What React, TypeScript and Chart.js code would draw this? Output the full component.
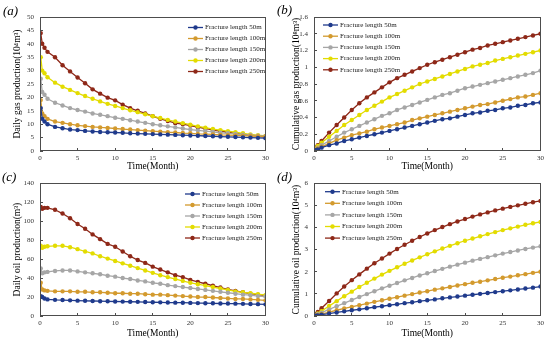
import React, { useEffect, useRef } from "react";
import { Chart, registerables } from "chart.js";

Chart.register(...registerables);

const FONT = "'Liberation Serif', 'Times New Roman', Times, serif";

const SERIES_LABELS = [
  "Fracture length 50m",
  "Fracture length 100m",
  "Fracture length 150m",
  "Fracture length 200m",
  "Fracture length 250m",
];
const SERIES_COLORS = ["#1F3A8C", "#D39A2E", "#A6A6A6", "#E3DC00", "#8E2818"];

const TIME_DAILY = [0.1, 0.3, 0.6, 1, 2, 3, 4, 5, 6, 7, 8, 9, 10, 11, 12, 13, 14, 15, 16, 17, 18, 19, 20, 21, 22, 23, 24, 25, 26, 27, 28, 29, 30];
const TIME_CUM = [0, 0.25, 0.5, 1, 2, 3, 4, 5, 6, 7, 8, 9, 10, 11, 12, 13, 14, 15, 16, 17, 18, 19, 20, 21, 22, 23, 24, 25, 26, 27, 28, 29, 30];

// (a) Daily gas production (10^4 m^3)
const GAS_DAILY_50 = [16, 12, 11, 10, 9, 8.5, 8, 7.8, 7.5, 7.3, 7.1, 7.0, 6.9, 6.8, 6.6, 6.5, 6.4, 6.3, 6.2, 6.1, 6.0, 5.9, 5.8, 5.7, 5.6, 5.5, 5.4, 5.3, 5.2, 5.1, 5.0, 4.9, 4.8];
const GAS_DAILY_100 = [19, 14, 13, 12, 11, 10.5, 10, 9.6, 9.3, 9.0, 8.8, 8.6, 8.4, 8.2, 8.0, 7.8, 7.6, 7.4, 7.2, 7.0, 6.9, 6.7, 6.6, 6.4, 6.3, 6.2, 6.0, 5.9, 5.8, 5.7, 5.6, 5.5, 5.4];
const GAS_DAILY_150 = [27, 22, 21, 19.5, 18, 17, 16, 15.3, 14.7, 14, 13.5, 13, 12.4, 12, 11.5, 11, 10.5, 10, 9.6, 9.2, 8.8, 8.4, 8.0, 7.7, 7.4, 7.1, 6.8, 6.6, 6.4, 6.1, 5.9, 5.7, 5.5];
const GAS_DAILY_200 = [35, 30, 29, 27.5, 25.5, 24, 22.8, 21.6, 20.5, 19.5, 18.5, 17.6, 16.8, 16, 15.2, 14.5, 13.7, 13, 12.3, 11.6, 11, 10.4, 9.8, 9.2, 8.7, 8.2, 7.8, 7.4, 7.0, 6.6, 6.2, 5.9, 5.6];
const GAS_DAILY_250 = [44, 40, 38.5, 37, 35, 32, 29.7, 27.4, 25.3, 23, 21.4, 19.9, 18.9, 17.3, 16, 15, 14, 13, 12, 11.2, 10.4, 10, 9.5, 8.9, 8.4, 7.8, 7.4, 7.0, 6.6, 6.3, 5.9, 5.6, 5.2];

// (b) Cumulative gas production (10^8 m^3)
const GAS_CUM_50 = [0, 0.01, 0.02, 0.04, 0.07, 0.09, 0.12, 0.14, 0.16, 0.18, 0.20, 0.22, 0.24, 0.26, 0.28, 0.30, 0.32, 0.34, 0.36, 0.38, 0.39, 0.41, 0.43, 0.45, 0.46, 0.48, 0.49, 0.51, 0.52, 0.54, 0.55, 0.57, 0.58];
const GAS_CUM_100 = [0, 0.015, 0.03, 0.05, 0.09, 0.13, 0.16, 0.19, 0.21, 0.23, 0.26, 0.28, 0.30, 0.32, 0.34, 0.37, 0.39, 0.41, 0.43, 0.45, 0.47, 0.49, 0.51, 0.53, 0.55, 0.56, 0.58, 0.60, 0.62, 0.64, 0.65, 0.67, 0.69];
const GAS_CUM_150 = [0, 0.02, 0.04, 0.07, 0.12, 0.17, 0.22, 0.26, 0.30, 0.34, 0.38, 0.42, 0.45, 0.49, 0.52, 0.55, 0.58, 0.61, 0.64, 0.67, 0.69, 0.72, 0.75, 0.77, 0.79, 0.81, 0.83, 0.85, 0.87, 0.89, 0.91, 0.93, 0.96];
const GAS_CUM_200 = [0, 0.03, 0.06, 0.10, 0.17, 0.24, 0.31, 0.37, 0.43, 0.49, 0.54, 0.59, 0.64, 0.68, 0.72, 0.76, 0.80, 0.83, 0.86, 0.89, 0.92, 0.95, 0.98, 1.01, 1.03, 1.05, 1.08, 1.10, 1.12, 1.14, 1.16, 1.18, 1.20];
const GAS_CUM_250 = [0, 0.04, 0.07, 0.12, 0.22, 0.31, 0.40, 0.49, 0.57, 0.64, 0.70, 0.76, 0.82, 0.87, 0.91, 0.95, 0.99, 1.03, 1.06, 1.09, 1.12, 1.15, 1.18, 1.21, 1.23, 1.26, 1.28, 1.30, 1.32, 1.34, 1.36, 1.38, 1.40];

// (c) Daily oil production (m^3)
const OIL_DAILY_50 = [21, 20, 18.5, 17.5, 17, 16.8, 16.5, 16.2, 16, 15.8, 15.6, 15.5, 15.3, 15.2, 15, 14.9, 14.7, 14.5, 14.4, 14.2, 14.1, 14, 13.8, 13.6, 13.5, 13.4, 13.2, 13.1, 13, 12.8, 12.6, 12.5, 12.3];
const OIL_DAILY_100 = [35, 28, 27, 26.5, 26, 26, 26, 25.5, 25.5, 25, 25, 24.5, 24, 24, 23.5, 23.5, 23, 22.5, 22.5, 22, 21.5, 21, 20.5, 20, 20, 19.5, 19, 18.5, 18, 18, 17.5, 17, 16.5];
const OIL_DAILY_150 = [50, 45, 46, 46.5, 47.5, 48, 48, 47, 46, 45, 44, 42.5, 41.5, 40, 39, 37.5, 36.5, 35, 34, 32.5, 31.5, 30.5, 29.5, 28.5, 27.5, 26.5, 25.5, 24.5, 23.5, 22.5, 22, 21, 20.5];
const OIL_DAILY_200 = [74, 72, 73, 73.5, 74, 74, 72.5, 70.5, 68, 66, 63, 60.5, 58, 55.5, 53, 50.5, 48, 45.5, 43, 41, 39, 37, 35, 33.5, 32, 30.5, 29, 27.5, 26, 25, 24, 23, 22];
const OIL_DAILY_250 = [115, 113, 114, 114, 112, 108, 103, 97, 92, 86, 81, 76, 73, 68, 63, 59, 56, 52, 49, 46, 43, 41, 38, 36, 34, 32, 30, 28, 26.5, 25, 23.5, 22.5, 21.5];

// (d) Cumulative oil production (10^4 m^3)
const OIL_CUM_50 = [0, 0.015, 0.03, 0.06, 0.11, 0.16, 0.21, 0.26, 0.3, 0.35, 0.4, 0.44, 0.49, 0.53, 0.58, 0.62, 0.67, 0.71, 0.75, 0.8, 0.84, 0.88, 0.92, 0.96, 1.0, 1.04, 1.08, 1.12, 1.16, 1.2, 1.24, 1.28, 1.33];
const OIL_CUM_100 = [0, 0.02, 0.05, 0.09, 0.18, 0.26, 0.34, 0.41, 0.49, 0.56, 0.64, 0.71, 0.78, 0.85, 0.92, 0.99, 1.06, 1.12, 1.19, 1.25, 1.31, 1.38, 1.44, 1.5, 1.55, 1.61, 1.67, 1.73, 1.78, 1.84, 1.89, 1.95, 2.0];
const OIL_CUM_150 = [0, 0.04, 0.08, 0.15, 0.3, 0.44, 0.58, 0.72, 0.86, 0.99, 1.12, 1.25, 1.37, 1.49, 1.61, 1.72, 1.83, 1.93, 2.03, 2.13, 2.23, 2.32, 2.41, 2.5, 2.58, 2.66, 2.74, 2.82, 2.89, 2.96, 3.03, 3.09, 3.15];
const OIL_CUM_200 = [0, 0.05, 0.11, 0.22, 0.45, 0.67, 0.89, 1.1, 1.31, 1.5, 1.69, 1.87, 2.04, 2.2, 2.36, 2.51, 2.65, 2.79, 2.92, 3.05, 3.17, 3.29, 3.4, 3.5, 3.6, 3.7, 3.79, 3.88, 3.96, 4.04, 4.12, 4.19, 4.25];
const OIL_CUM_250 = [0, 0.08, 0.18, 0.35, 0.68, 1.02, 1.33, 1.62, 1.88, 2.14, 2.38, 2.6, 2.82, 3.03, 3.22, 3.4, 3.57, 3.73, 3.88, 4.02, 4.15, 4.27, 4.38, 4.49, 4.59, 4.68, 4.77, 4.85, 4.93, 5.0, 5.07, 5.14, 5.2];

const X_TITLE = "Time(Month)";

type PanelSpec = {
  label: string;
  left: number;
  top: number;
  width: number;
  height: number;
  padTop: number;
  padRight: number;
  yWidth: number;
  xHeight: number;
  yMax: number;
  yStep: number;
  yTitle: string;
  yTitlePad: number;
  xTitlePad: number;
  time: number[];
  series: number[][];
  legendX: number;
  legendY: number;
  legendDy: number;
  labelX: number;
  labelY: number;
};

const PANELS: PanelSpec[] = [
  {
    label: "(a)", left: 0, top: 0, width: 275, height: 175,
    padTop: 17, padRight: 6, yWidth: 40, xHeight: 24,
    yMax: 50, yStep: 5, yTitle: "Daily gas production(10⁴m³)", yTitlePad: 12, xTitlePad: 3,
    time: TIME_DAILY, series: [GAS_DAILY_50, GAS_DAILY_100, GAS_DAILY_150, GAS_DAILY_200, GAS_DAILY_250],
    legendX: 188, legendY: 27.5, legendDy: 11, labelX: 3, labelY: 11.5,
  },
  {
    label: "(b)", left: 275, top: 0, width: 275, height: 175,
    padTop: 17, padRight: 6, yWidth: 39, xHeight: 24,
    yMax: 1.6, yStep: 0.2, yTitle: "Cumulative gas production(10⁸m³)", yTitlePad: 16, xTitlePad: 3,
    time: TIME_CUM, series: [GAS_CUM_50, GAS_CUM_100, GAS_CUM_150, GAS_CUM_200, GAS_CUM_250],
    legendX: 48, legendY: 25, legendDy: 11.2, labelX: 2, labelY: 11,
  },
  {
    label: "(c)", left: 0, top: 170, width: 275, height: 171,
    padTop: 13, padRight: 6, yWidth: 40, xHeight: 25,
    yMax: 140, yStep: 20, yTitle: "Daily oil production(m³)", yTitlePad: 12, xTitlePad: 2,
    time: TIME_DAILY, series: [OIL_DAILY_50, OIL_DAILY_100, OIL_DAILY_150, OIL_DAILY_200, OIL_DAILY_250],
    legendX: 185, legendY: 24, legendDy: 11, labelX: 2, labelY: 7.5,
  },
  {
    label: "(d)", left: 275, top: 170, width: 275, height: 171,
    padTop: 13, padRight: 6, yWidth: 39, xHeight: 25,
    yMax: 6, yStep: 1, yTitle: "Cumulative oil production(10⁴m³)", yTitlePad: 16, xTitlePad: 2,
    time: TIME_CUM, series: [OIL_CUM_50, OIL_CUM_100, OIL_CUM_150, OIL_CUM_200, OIL_CUM_250],
    legendX: 50, legendY: 21.7, legendDy: 11.6, labelX: 2, labelY: 7.5,
  },
];

const decorPlugin = {
  id: "decor",
  afterDatasetsDraw(chart: any, _args: any, opts: any) {
    const { ctx, chartArea: a } = chart;
    ctx.save();
    // plot box
    ctx.strokeStyle = "#4d4d4d";
    ctx.lineWidth = 1;
    ctx.strokeRect(Math.round(a.left) + 0.5, Math.round(a.top) + 0.5, Math.round(a.right - a.left) - 1, Math.round(a.bottom - a.top) - 1);
    // legend
    chart.data.datasets.forEach((ds: any, i: number) => {
      const y = opts.legendY + i * opts.legendDy;
      const x = opts.legendX;
      ctx.strokeStyle = ds.borderColor;
      ctx.lineWidth = 1.3;
      ctx.beginPath();
      ctx.moveTo(x, y);
      ctx.lineTo(x + 15, y);
      ctx.stroke();
      ctx.fillStyle = ds.borderColor;
      ctx.beginPath();
      ctx.arc(x + 7.5, y, 2.2, 0, Math.PI * 2);
      ctx.fill();
      ctx.fillStyle = "#222";
      ctx.font = `7px ${FONT}`;
      ctx.textBaseline = "middle";
      ctx.textAlign = "left";
      ctx.fillText(ds.label, x + 17, y);
    });
    // panel label
    ctx.fillStyle = "#000";
    ctx.font = `italic 13px ${FONT}`;
    ctx.textBaseline = "middle";
    ctx.textAlign = "left";
    ctx.fillText(opts.label, opts.labelX, opts.labelY);
    ctx.restore();
  },
};

function Panel({ spec }: { spec: PanelSpec }) {
  const ref = useRef<HTMLCanvasElement | null>(null);
  useEffect(() => {
    if (!ref.current) return;
    const datasets = spec.series.map((vals, i) => ({
      label: SERIES_LABELS[i],
      data: spec.time.map((t, j) => ({ x: t, y: vals[j] })),
      borderColor: SERIES_COLORS[i],
      backgroundColor: SERIES_COLORS[i],
      pointBackgroundColor: SERIES_COLORS[i],
      pointBorderWidth: 0,
      pointRadius: 2.2,
      borderWidth: 1.3,
      tension: 0,
      fill: false,
    }));
    const tickFont = { family: FONT, size: 7 };
    const titleFont = { family: FONT, size: 9.5 };
    const chart = new Chart(ref.current, {
      type: "line",
      data: { datasets },
      plugins: [decorPlugin],
      options: {
        animation: false,
        responsive: false,
        devicePixelRatio: 1,
        layout: { padding: { top: spec.padTop, right: spec.padRight, left: 0, bottom: 0 } },
        plugins: {
          legend: { display: false },
          tooltip: { enabled: false },
          decor: {
            legendX: spec.legendX,
            legendY: spec.legendY,
            legendDy: spec.legendDy,
            label: spec.label,
            labelX: spec.labelX,
            labelY: spec.labelY,
          },
        } as any,
        scales: {
          x: {
            type: "linear",
            min: 0,
            max: 30,
            ticks: { stepSize: 5, font: tickFont, color: "#333", padding: 6, maxRotation: 0 },
            grid: { drawOnChartArea: false, tickLength: -3, color: "#4d4d4d" },
            border: { display: false },
            title: { display: true, text: X_TITLE, font: titleFont, color: "#000", padding: { top: 0, bottom: spec.xTitlePad } },
            afterFit: (s: any) => { s.height = spec.xHeight; },
          },
          y: {
            type: "linear",
            min: 0,
            max: spec.yMax,
            ticks: {
              stepSize: spec.yStep,
              font: tickFont,
              color: "#333",
              padding: 9,
              callback: (v: any) => String(Math.round(Number(v) * 10) / 10),
            },
            grid: { drawOnChartArea: false, tickLength: -3, color: "#4d4d4d" },
            border: { display: false },
            title: { display: true, text: spec.yTitle, font: titleFont, color: "#000", padding: { top: spec.yTitlePad, bottom: 0 } },
            afterFit: (s: any) => { s.width = spec.yWidth; },
          },
        },
      } as any,
    });
    return () => chart.destroy();
  }, [spec]);
  return (
    <canvas
      ref={ref}
      width={spec.width}
      height={spec.height}
      style={{ position: "absolute", left: spec.left, top: spec.top, width: spec.width, height: spec.height }}
    />
  );
}

export default function App() {
  return (
    <div style={{ position: "absolute", left: 0, top: 0, width: 550, height: 341, background: "#fff", overflow: "hidden" }}>
      {PANELS.map((p) => (
        <Panel key={p.label} spec={p} />
      ))}
    </div>
  );
}
